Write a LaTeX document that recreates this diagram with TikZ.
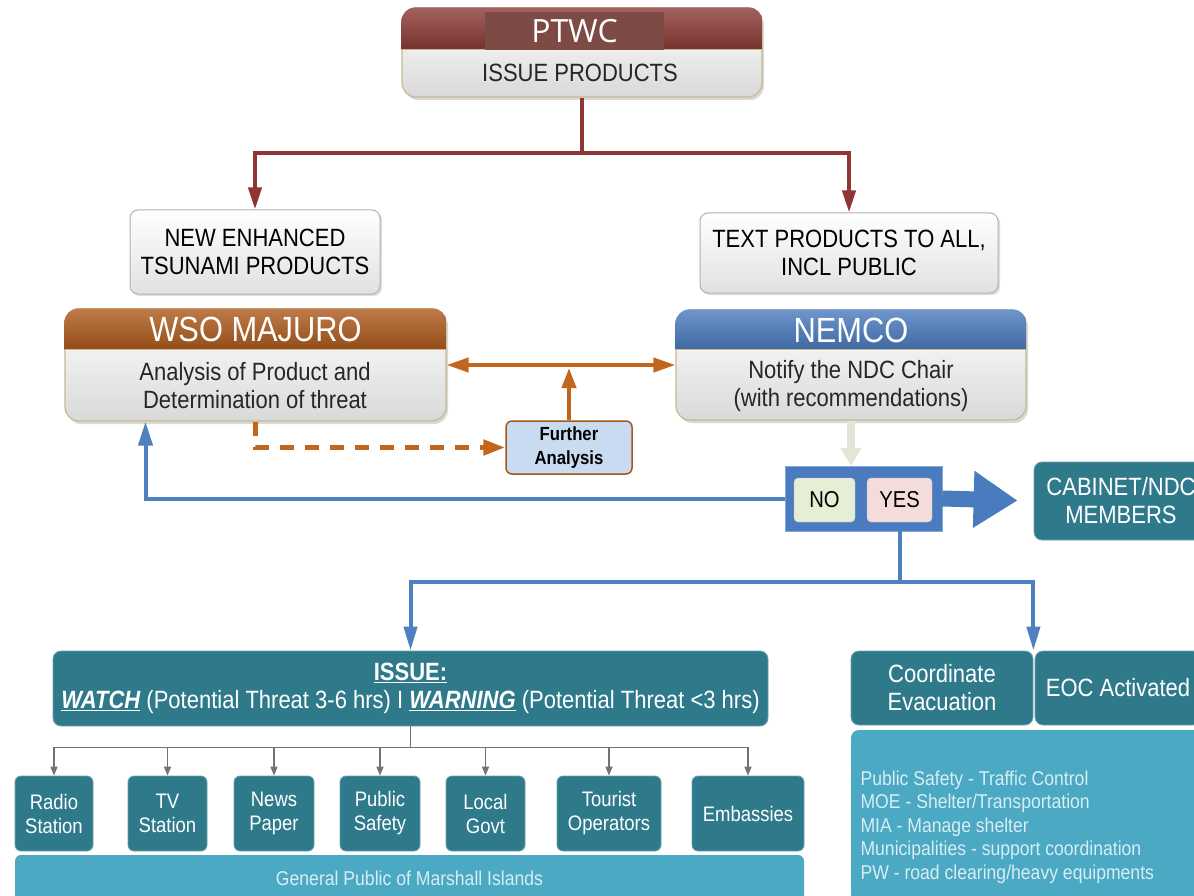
\documentclass[tikz,border=0pt]{standalone}
\usepackage{fontspec}
\setmainfont[FakeStretch=0.88]{Liberation Sans}
\newfontfamily\ptwcfont{Open Sans}
\usetikzlibrary{arrows.meta,shadows}
\definecolor{ptwcred}{HTML}{8C3A35}
\definecolor{ptwcdark}{HTML}{7D4A46}
\definecolor{wsobrown}{HTML}{AE5A1C}
\definecolor{nemcoblue}{HTML}{4A7BBF}
\definecolor{linered}{HTML}{8E3636}
\definecolor{lineorange}{HTML}{C2661E}
\definecolor{lineblue}{HTML}{4F80C0}
\definecolor{tealbox}{HTML}{2E7A8B}
\definecolor{lightteal}{HTML}{4BA9C3}
\definecolor{paleteal}{HTML}{D6EEF4}
\definecolor{boxedge}{HTML}{C8B98E}
\definecolor{nogreen}{HTML}{E6EED6}
\definecolor{yespink}{HTML}{F3DCDA}
\definecolor{paleline}{HTML}{E3E5D6}
\definecolor{furtherblue}{HTML}{C9DBF0}
\newcommand{\headbar}[3]{%
  \begin{scope}
    \clip[rounded corners=14pt] (#1.north west) rectangle (#1.south east);
    \shade[top color=#3!80!white, bottom color=#3!85!black] (#1.north west) rectangle ([yshift=-#2]#1.north east);
    \draw[boxedge, line width=1pt] ([yshift=-#2]#1.north west) -- ([yshift=-#2]#1.north east);
  \end{scope}}
\tikzset{
  card/.style={draw=boxedge, line width=1.2pt, rounded corners=14pt, top color=white, bottom color=black!15,
    drop shadow={opacity=0.3, shadow xshift=2pt, shadow yshift=-3pt}},
  note/.style={draw=black!30, line width=1pt, rounded corners=8pt, top color=white, bottom color=black!12,
    align=center, font=\fontsize{25}{28}\selectfont, drop shadow={opacity=0.25, shadow xshift=2pt, shadow yshift=-2pt}},
  title/.style={text=white, font=\fontsize{35}{38}\selectfont},
  bodytext/.style={align=center, text=black!85, font=\fontsize{25}{28}\selectfont},
  tealnode/.style={fill=tealbox, draw=tealbox!70!white, line width=0.8pt, rounded corners=8pt, text=white,
    align=center, font=\fontsize{25}{28}\selectfont},
  outlet/.style={tealnode, rounded corners=6pt, minimum height=75, font=\fontsize{21}{24}\selectfont},
  choice/.style={draw=black!25, rounded corners=4pt, minimum height=44, font=\fontsize{23}{25}\selectfont},
  redline/.style={draw=linered, line width=4pt, -{Triangle[length=22pt,width=13pt]}},
  orangeline/.style={draw=lineorange, line width=4pt},
  blueline/.style={draw=lineblue, line width=4pt},
  grayline/.style={draw=black!55, line width=1.5pt}
}
\begin{document}
\begin{tikzpicture}[x=1pt,y=-1pt]
  \useasboundingbox (0,0) rectangle (1194,896);
  \fill[white] (0,0) rectangle (1194,896);

  \node[card, minimum width=360, minimum height=89] (ptwc) at (582,52.5) {};
  \headbar{ptwc}{42pt}{ptwcred}
  \node[fill=ptwcdark, minimum width=179, minimum height=38, text=white,
    font=\ptwcfont\fontsize{32}{34}\selectfont] (ptwctitle) at (574.5,31) {PTWC};
  \node[bodytext] (ptwctext) at (580,73) {ISSUE PRODUCTS};

  \node[note, minimum width=250, minimum height=84] (newprod) at (255,252) {NEW ENHANCED\\TSUNAMI PRODUCTS};
  \node[note, minimum width=298, minimum height=80] (textprod) at (849,253) {TEXT PRODUCTS TO ALL,\\INCL PUBLIC};

  \node[card, minimum width=381, minimum height=112] (wso) at (255.5,365) {};
  \headbar{wso}{41pt}{wsobrown}
  \node[title] (wsotitle) at (255.5,329) {WSO MAJURO};
  \node[bodytext] (wsotext) at (255,386) {Analysis of Product and\\Determination of threat};

  \node[card, minimum width=350, minimum height=110] (nemco) at (851,365) {};
  \headbar{nemco}{40pt}{nemcoblue}
  \node[title] (nemcotitle) at (851,330) {NEMCO};
  \node[bodytext] (nemcotext) at (851,386) {Notify the NDC Chair\\(with recommendations)};

  \node[draw=lineorange!85!black, line width=1.5pt, fill=furtherblue, rounded corners=6pt,
    minimum width=126, minimum height=53, align=center,
    font=\bfseries\fontsize{19}{24}\selectfont] (further) at (569,447.5) {Further\\Analysis};

  \node[fill=nemcoblue, draw=lineblue!70!white, minimum width=157, minimum height=65] (yesno) at (863.5,498.5) {};
  \node[choice, fill=nogreen, minimum width=61] (no) at (824.5,500) {NO};
  \node[choice, fill=yespink, minimum width=65] (yes) at (899.5,500) {YES};

  \node[tealnode, minimum width=174, minimum height=78] (cabinet) at (1121,501) {CABINET/NDC\\MEMBERS};

  \node[tealnode, minimum width=715, minimum height=75] (issue) at (410.5,688.5)
    {\textbf{\underline{ISSUE:}}\\\textbf{\textit{\underline{WATCH}}} (Potential Threat 3-6 hrs) I
     \textbf{\textit{\underline{WARNING}}} (Potential Threat <3 hrs)};

  \node[tealnode, minimum width=182, minimum height=74] (coord) at (942,688) {Coordinate\\Evacuation};
  \node[tealnode, minimum width=166, minimum height=74] (eoc) at (1118,688) {EOC Activated};
  \node[fill=lightteal, rounded corners=8pt, minimum width=360, minimum height=172] (tasks) at (1031,816) {};
  \node[anchor=west, align=left, text=paleteal, font=\fontsize{20}{23.5}\selectfont] (tasktext) at (857,827)
    {Public Safety - Traffic Control\\MOE - Shelter/Transportation\\MIA - Manage shelter\\
     Municipalities - support coordination\\PW - road clearing/heavy equipments};

  \node[outlet, minimum width=78] (radio) at (54,813.5) {Radio\\Station};
  \node[outlet, minimum width=79] (tv) at (167.5,813.5) {TV\\Station};
  \node[outlet, minimum width=80] (news) at (274,813.5) {News\\Paper};
  \node[outlet, minimum width=80] (safety) at (380,813.5) {Public\\Safety};
  \node[outlet, minimum width=79] (govt) at (485.5,813.5) {Local\\Govt};
  \node[outlet, minimum width=104] (tourist) at (609,813.5) {Tourist\\Operators};
  \node[outlet, minimum width=112] (embassy) at (748,813.5) {Embassies};
  \node[fill=lightteal, rounded corners=6pt, minimum width=789, minimum height=46, text=paleteal,
    font=\fontsize{20}{22}\selectfont] (public) at (409.5,878) {General Public of Marshall Islands};

  \draw[redline] (ptwc.south) -- ++(0,55) -| (newprod.north);
  \draw[redline] (ptwc.south) -- ++(0,55) -| (textprod.north);

  \draw[orangeline, {Triangle[length=22pt,width=14pt]}-{Triangle[length=22pt,width=14pt]}] (wso.east) -- (nemco.west);
  \draw[orangeline, -{Triangle[length=20pt,width=14pt]}, shorten >=3pt] (further.north) -- (further.north |- wso.east);
  \draw[orangeline, line width=5pt, dash pattern=on 14pt off 11pt, -{Triangle[length=22pt,width=15pt]}]
    (wso.south) |- (further.west);

  \draw[draw=paleline, line width=8pt, -{Triangle[length=18pt,width=20pt]}] (nemco.south) -- (nemco.south |- yesno.north);
  \draw[blueline, -{Triangle[length=24pt,width=14pt]}] (yesno.west) -| ([xshift=-110pt]wso.south);
  \draw[draw=nemcoblue, line width=16pt, -{Triangle[length=44pt,width=54pt]}, shorten >=16pt] (yesno.east) -- (cabinet.west);

  \draw[blueline, -{Triangle[length=24pt,width=13pt]}] (yes.south |- yesno.south) -- ++(0,51) -| (issue.north);
  \draw[blueline, -{Triangle[length=24pt,width=13pt]}] (yes.south |- yesno.south) -- ++(0,51) -| (coord.north east);

  \draw[grayline] (issue.south) -- ++(0,21) coordinate (fan);
  \draw[grayline, -{Triangle[length=9pt,width=7pt]}] (fan) -| (radio.north);
  \draw[grayline, -{Triangle[length=9pt,width=7pt]}] (fan) -| (tv.north);
  \draw[grayline, -{Triangle[length=9pt,width=7pt]}] (fan) -| (news.north);
  \draw[grayline, -{Triangle[length=9pt,width=7pt]}] (fan) -| (safety.north);
  \draw[grayline, -{Triangle[length=9pt,width=7pt]}] (fan) -| (govt.north);
  \draw[grayline, -{Triangle[length=9pt,width=7pt]}] (fan) -| (tourist.north);
  \draw[grayline, -{Triangle[length=9pt,width=7pt]}] (fan) -| (embassy.north);
\end{tikzpicture}
\end{document}
